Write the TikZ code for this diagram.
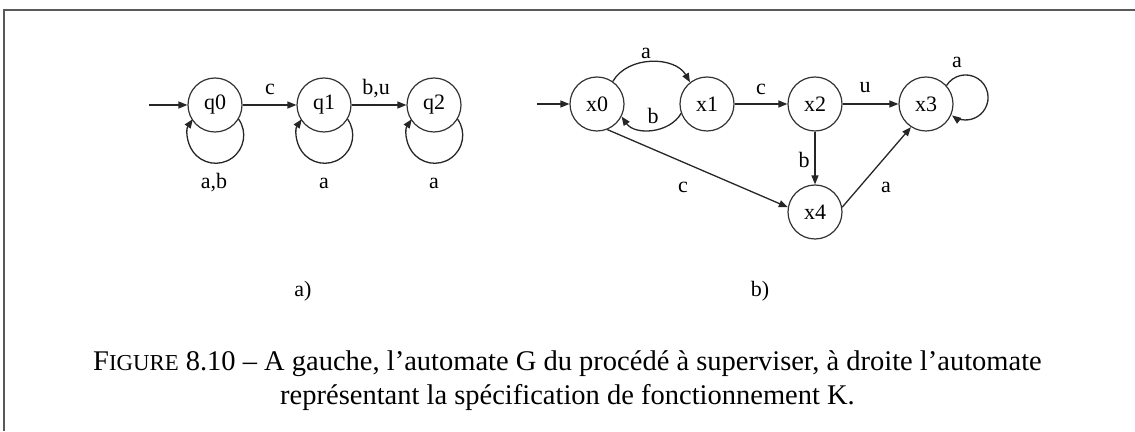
\documentclass[tikz,border=0pt]{standalone}
\usepackage{fontspec}
\setmainfont{Liberation Serif}
\usetikzlibrary{arrows.meta}
\begin{document}
\begin{tikzpicture}[x=1pt,y=1pt,
  state/.style={circle,draw=black!80,line width=1.2pt,minimum size=54pt,inner sep=0pt,font=\fontsize{22}{26}\selectfont},
  trans/.style={draw=black!85,line width=1.3pt,-{Triangle[length=9pt,width=7pt]}},
  lbl/.style={font=\fontsize{22}{26}\selectfont,inner sep=0pt},
  capt/.style={anchor=base,inner sep=0pt,font=\fontsize{28.5}{34}\selectfont},
  ]
\useasboundingbox (0,0) rectangle (1135,431);
% frame
\draw[line width=1.5pt,black!65] (4,0) -- (4,421) -- (1135,421);

% ---- automaton G (a)
\node[state] (q0) at (215,326) {q0};
\node[state] (q1) at (324,326) {q1};
\node[state] (q2) at (434,326) {q2};
\coordinate (qa) at (149,326);
\draw[trans] (qa) -- (q0);
\draw[trans] (q0) -- (q1);
\draw[trans] (q1) -- (q2);
\draw[trans] (q0.-31) arc[start angle=35,end angle=-215,radius=28];
\draw[trans] (q1.-31) arc[start angle=35,end angle=-215,radius=28];
\draw[trans] (q2.-31) arc[start angle=35,end angle=-215,radius=28];
\node[lbl] (lq01) at (270,342) {c};
\node[lbl] (lq12) at (376,342) {b,u};
\node[lbl] (lq00) at (214,248) {a,b};
\node[lbl] (lq11) at (324,248) {a};
\node[lbl] (lq22) at (434,248) {a};
\node[lbl] (la) at (303,140) {a)};

% ---- automaton K (b)
\node[state] (x0) at (597,327) {x0};
\node[state] (x1) at (707,327) {x1};
\node[state] (x2) at (815,327) {x2};
\node[state] (x3) at (926,327) {x3};
\node[state] (x4) at (815,219) {x4};
\coordinate (xa) at (537,327);
\draw[trans] (xa) -- (x0);
\draw[trans] (x0.55) to[out=60,in=120] (x1.128);
\draw[trans] (x1.-160) to[out=-120,in=-55] (x0.-27);
\draw[trans] (x1) -- (x2);
\draw[trans] (x2) -- (x3);
\draw[trans] (x2) -- (x4);
\draw[trans] (x0.-68) -- (x4.170);
\draw[trans] (x4.10) -- (x3.-123);
\draw[trans] (x3.42) arc[start angle=148,end angle=-127,radius=22.5];
\node[lbl] (lx01) at (646,378) {a};
\node[lbl] (lx10) at (653,315) {b};
\node[lbl] (lx12) at (761,342) {c};
\node[lbl] (lx23) at (865,343) {u};
\node[lbl] (lx24) at (804,271) {b};
\node[lbl] (lx04) at (683,244) {c};
\node[lbl] (lx43) at (886,244) {a};
\node[lbl] (lx33) at (957,369) {a};
\node[lbl] (lb) at (760,140) {b)};

% ---- caption
\node[capt] (cap1) at (567.5,60) {F{\fontsize{22.8}{27}\selectfont IGURE} 8.10 – A gauche, l’automate G du procédé à superviser, à droite l’automate};
\node[capt] (cap2) at (567.5,27) {représentant la spécification de fonctionnement K.};
\end{tikzpicture}
\end{document}
